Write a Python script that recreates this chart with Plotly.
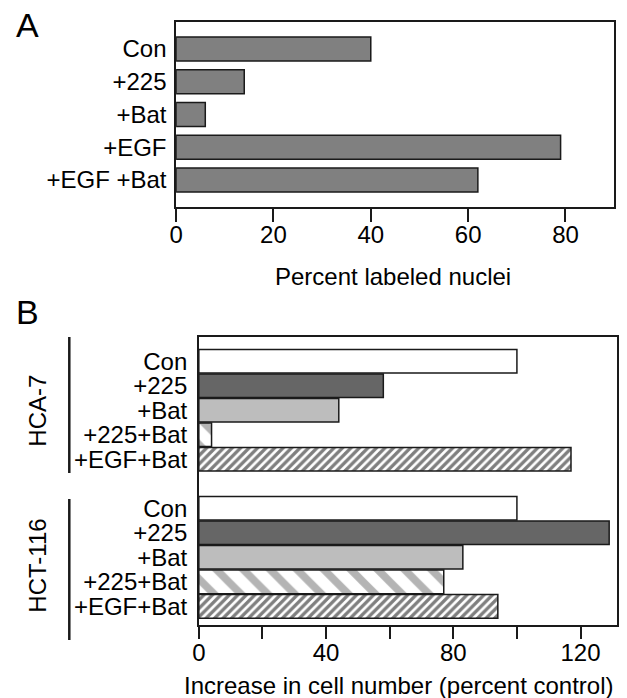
import plotly.graph_objects as go

# ---------------- data ----------------
a_categories = ["Con", "+225", "+Bat", "+EGF", "+EGF +Bat"]
a_values = [40, 14, 6, 79, 62]
a_ticks = [0, 20, 40, 60, 80]

b_categories = ["Con", "+225", "+Bat", "+225+Bat", "+EGF+Bat"]
b_groups = ["HCA-7", "HCT-116"]
b_hca7 = [100, 58, 44, 4, 117]
b_hct116 = [100, 129, 83, 77, 94]
b_ticks = [0, 20, 40, 60, 80, 100, 120]
b_ticklabels = ["0", "", "40", "", "80", "", "120"]

W, H = 627, 698
FONT = "Liberation Sans, Arial, Helvetica, sans-serif"
FS = 24
LINE = "#1a1a1a"


def py(px):
    return 1 - px / H


def pxx(px):
    return px / W


fig = go.Figure()

# ---- Panel A ----
a_pos = list(range(len(a_categories)))
fig.add_trace(go.Bar(
    x=a_values, y=a_pos, orientation="h", width=0.73,
    marker=dict(color="#808080", line=dict(color=LINE, width=1.5)),
    xaxis="x", yaxis="y", showlegend=False, hoverinfo="x+text",
    text=a_categories, textposition="none",
))

# ---- Panel B ----
b_styles = [
    dict(color="white"),
    dict(color="#666666"),
    dict(color="#bdbdbd"),
    dict(color="white", pattern=dict(shape="\\", size=19, solidity=0.4,
                                     fgcolor="#6a6a6a", bgcolor="white", fillmode="overlay")),
    dict(color="white", pattern=dict(shape="/", size=6, solidity=0.55,
                                     fgcolor="#000000", bgcolor="white", fillmode="overlay")),
]
n = len(b_categories)
for g, vals in enumerate([b_hca7, b_hct116]):
    for i, v in enumerate(vals):
        pos = i + g * (n + 1)
        m = dict(b_styles[i])
        m["line"] = dict(color=LINE, width=1.5)
        fig.add_trace(go.Bar(
            x=[v], y=[pos], orientation="h", width=0.96,
            marker=m, xaxis="x2", yaxis="y2", showlegend=False,
            hoverinfo="x+text", text=[f"{b_groups[g]} {b_categories[i]}"],
            textposition="none",
        ))

b_tickvals = [i + g * (n + 1) for g in range(2) for i in range(n)]
b_ticktext = b_categories * 2

axis_common = dict(showline=True, linecolor=LINE, linewidth=1.5, mirror=True,
                   showgrid=False, zeroline=False,
                   tickfont=dict(family=FONT, size=FS, color="black"))

fig.update_layout(
    width=W, height=H, margin=dict(l=0, r=0, t=0, b=0),
    paper_bgcolor="white", plot_bgcolor="white",
    font=dict(family=FONT, size=FS, color="black"),
    barmode="overlay",
    xaxis=dict(domain=[pxx(171), pxx(614)], anchor="y", range=[0, 90],
               tickvals=a_ticks, ticks="outside", ticklen=13, tickwidth=2,
               tickcolor=LINE, ticklabelstandoff=-8, **axis_common),
    yaxis=dict(domain=[py(207.3), py(21.7)], anchor="x", range=[4.834, -0.834],
               tickvals=a_pos, ticktext=a_categories, ticks="",
               ticklabelstandoff=3, **axis_common),
    xaxis2=dict(domain=[pxx(194), pxx(617)], anchor="y2", range=[0, 131.5],
                tickvals=b_ticks, ticktext=b_ticklabels, ticks="outside",
                ticklen=12, tickwidth=2, tickcolor=LINE, ticklabelstandoff=-7,
                **axis_common),
    yaxis2=dict(domain=[py(625), py(337)], anchor="x2", range=[10.76, -0.99],
                tickvals=b_tickvals, ticktext=b_ticktext, ticks="",
                ticklabelstandoff=5, **axis_common),
)

annotations = [
    dict(text="A", x=pxx(21), y=py(25), font=dict(size=34)),
    dict(text="B", x=pxx(21), y=py(312), font=dict(size=34)),
    dict(text="Percent labeled nuclei", x=pxx(390), y=py(276), font=dict(size=FS)),
    dict(text="Increase in cell number (percent control)", x=pxx(396), y=py(685),
         font=dict(size=FS)),
    dict(text=b_groups[0], x=pxx(30), y=py(411), textangle=-90, font=dict(size=FS)),
    dict(text=b_groups[1], x=pxx(30), y=py(566), textangle=-90, font=dict(size=FS)),
]
for a in annotations:
    a.update(xref="paper", yref="paper", showarrow=False, xanchor="center", yanchor="middle")
    a["font"].update(family=FONT, color="black")
fig.update_layout(annotations=annotations)

shapes = [
    dict(type="line", xref="paper", yref="paper", x0=pxx(63), x1=pxx(63),
         y0=py(337), y1=py(473), line=dict(color=LINE, width=2.5)),
    dict(type="line", xref="paper", yref="paper", x0=pxx(63), x1=pxx(63),
         y0=py(499), y1=py(640), line=dict(color=LINE, width=2.5)),
]
fig.update_layout(shapes=shapes)

fig.write_html("out.html")
